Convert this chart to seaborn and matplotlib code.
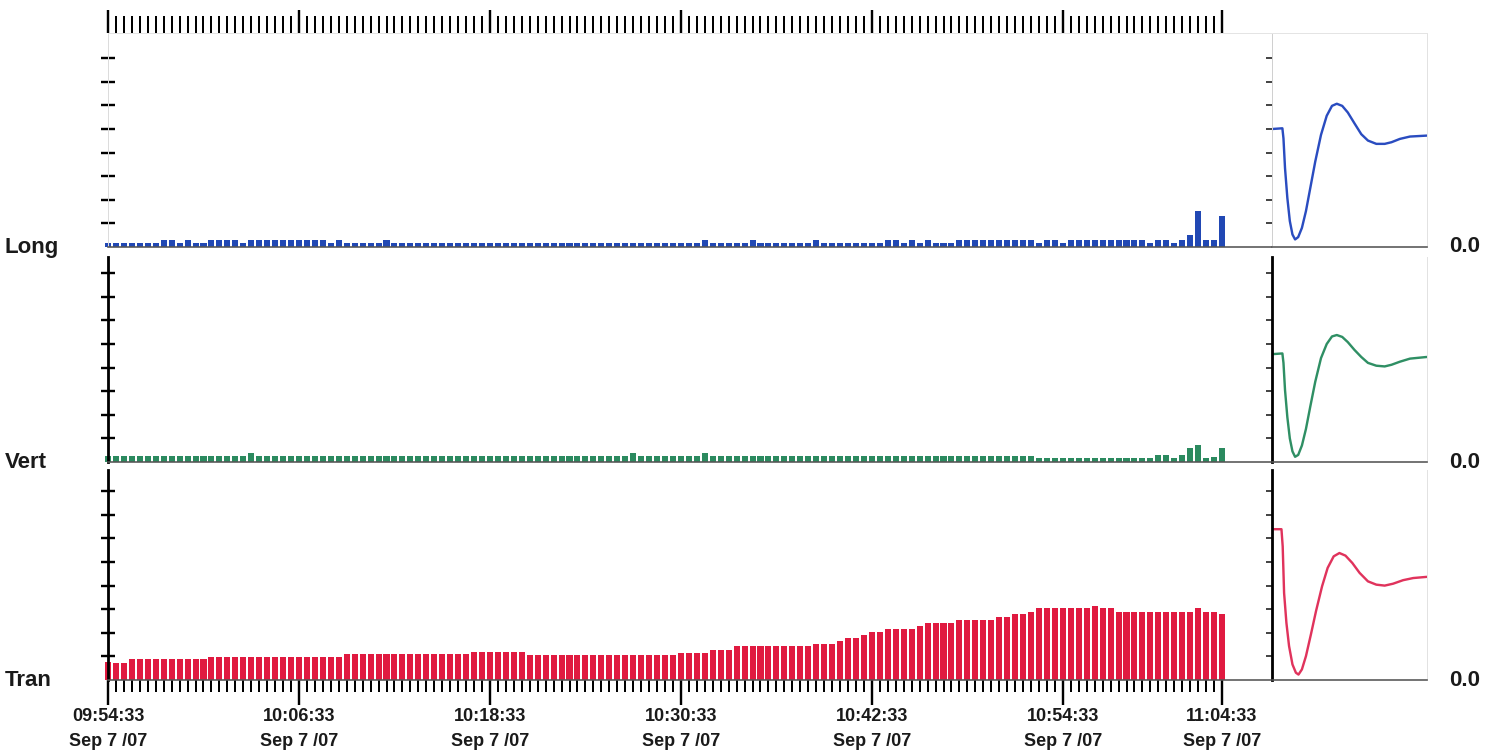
import numpy as np
import pandas as pd
import matplotlib
matplotlib.use("Agg")
import matplotlib.pyplot as plt
import seaborn as sns
from matplotlib.ticker import FixedLocator

sns.set_theme(style="white")
plt.rcParams['font.family'] = ['Liberation Sans', 'DejaVu Sans']

# ---------------- data ----------------
# one sample every 30 s starting 09:54:33 (minutes since start)
sample_minutes = np.arange(141) * 0.5

long_vals = [
    0.15, 0.15, 0.15, 0.15, 0.15, 0.15, 0.15, 0.30, 0.30, 0.15,
    0.30, 0.15, 0.15, 0.30, 0.30, 0.30, 0.30, 0.15, 0.30, 0.30,
    0.30, 0.30, 0.30, 0.30, 0.30, 0.30, 0.30, 0.30, 0.15, 0.30,
    0.15, 0.15, 0.15, 0.15, 0.15, 0.30, 0.15, 0.15, 0.15, 0.15,
    0.15, 0.15, 0.15, 0.15, 0.15, 0.15, 0.15, 0.15, 0.15, 0.15,
    0.15, 0.15, 0.15, 0.15, 0.15, 0.15, 0.15, 0.15, 0.15, 0.15,
    0.15, 0.15, 0.15, 0.15, 0.15, 0.15, 0.15, 0.15, 0.15, 0.15,
    0.15, 0.15, 0.15, 0.15, 0.15, 0.30, 0.15, 0.15, 0.15, 0.15,
    0.15, 0.30, 0.15, 0.15, 0.15, 0.15, 0.15, 0.15, 0.15, 0.30,
    0.15, 0.15, 0.15, 0.15, 0.15, 0.15, 0.15, 0.15, 0.30, 0.30,
    0.15, 0.30, 0.15, 0.30, 0.15, 0.15, 0.15, 0.30, 0.30, 0.30,
    0.30, 0.30, 0.30, 0.30, 0.30, 0.30, 0.30, 0.15, 0.30, 0.30,
    0.15, 0.30, 0.30, 0.30, 0.30, 0.30, 0.30, 0.30, 0.30, 0.30,
    0.30, 0.15, 0.30, 0.30, 0.15, 0.30, 0.50, 1.53, 0.30, 0.30,
    1.30,
]

vert_vals = [
    0.25, 0.25, 0.25, 0.25, 0.25, 0.25, 0.25, 0.25, 0.25, 0.25,
    0.25, 0.25, 0.25, 0.25, 0.25, 0.25, 0.25, 0.25, 0.40, 0.25,
    0.25, 0.25, 0.25, 0.25, 0.25, 0.25, 0.25, 0.25, 0.25, 0.25,
    0.25, 0.25, 0.25, 0.25, 0.25, 0.25, 0.25, 0.25, 0.25, 0.25,
    0.25, 0.25, 0.25, 0.25, 0.25, 0.25, 0.25, 0.25, 0.25, 0.25,
    0.25, 0.25, 0.25, 0.25, 0.25, 0.25, 0.25, 0.25, 0.25, 0.25,
    0.25, 0.25, 0.25, 0.25, 0.25, 0.25, 0.40, 0.25, 0.25, 0.25,
    0.25, 0.25, 0.25, 0.25, 0.25, 0.40, 0.25, 0.25, 0.25, 0.25,
    0.25, 0.25, 0.25, 0.25, 0.25, 0.25, 0.25, 0.25, 0.25, 0.25,
    0.25, 0.25, 0.25, 0.25, 0.25, 0.25, 0.25, 0.25, 0.25, 0.25,
    0.25, 0.25, 0.25, 0.25, 0.25, 0.25, 0.25, 0.25, 0.25, 0.25,
    0.25, 0.25, 0.25, 0.25, 0.25, 0.25, 0.25, 0.15, 0.15, 0.15,
    0.15, 0.15, 0.15, 0.15, 0.15, 0.15, 0.15, 0.15, 0.15, 0.15,
    0.15, 0.15, 0.30, 0.30, 0.15, 0.30, 0.60, 0.72, 0.15, 0.22,
    0.60,
]

tran_vals = [
    0.75, 0.70, 0.70, 0.87, 0.87, 0.87, 0.87, 0.87, 0.87, 0.87,
    0.87, 0.87, 0.87, 0.97, 0.97, 0.97, 0.97, 0.97, 0.97, 0.97,
    0.97, 0.97, 0.97, 0.97, 0.97, 0.97, 0.97, 0.97, 0.97, 0.97,
    1.09, 1.09, 1.09, 1.09, 1.09, 1.09, 1.09, 1.09, 1.09, 1.09,
    1.09, 1.09, 1.09, 1.09, 1.09, 1.09, 1.20, 1.20, 1.20, 1.20,
    1.20, 1.20, 1.20, 1.05, 1.05, 1.05, 1.05, 1.05, 1.05, 1.05,
    1.05, 1.05, 1.05, 1.05, 1.05, 1.05, 1.05, 1.05, 1.05, 1.05,
    1.05, 1.05, 1.15, 1.15, 1.15, 1.15, 1.28, 1.28, 1.28, 1.42,
    1.42, 1.42, 1.42, 1.42, 1.42, 1.42, 1.42, 1.42, 1.42, 1.53,
    1.53, 1.53, 1.64, 1.78, 1.78, 1.91, 2.05, 2.05, 2.16, 2.16,
    2.16, 2.16, 2.27, 2.40, 2.40, 2.40, 2.40, 2.54, 2.54, 2.54,
    2.54, 2.54, 2.65, 2.65, 2.79, 2.79, 2.90, 3.03, 3.03, 3.03,
    3.03, 3.03, 3.03, 3.03, 3.14, 3.03, 3.03, 2.90, 2.90, 2.90,
    2.90, 2.90, 2.90, 2.90, 2.90, 2.90, 2.90, 3.03, 2.90, 2.90,
    2.79,
]

channels = ["Long", "Vert", "Tran"]
bar_colors = ["#2148b4", "#2b8a5f", "#e01a40"]
line_colors = ["#2a4cc0", "#2f8f64", "#e0335c"]

time_tick_minutes = [0, 12, 24, 36, 48, 60, 70]
time_tick_clock = ["09:54:33", "10:06:33", "10:18:33", "10:30:33",
                   "10:42:33", "10:54:33", "11:04:33"]
time_tick_date = ["Sep 7 /07"] * 7

# event waveforms (percent of window, amplitude in tick units)
long_wave_t = [0.2, 6.7, 7.4, 8.4, 9.9, 11.5, 13.2, 14.9, 16.9, 19.3, 21.9, 24.7,
               27.9, 31.6, 35.3, 38.7, 41.8, 45.3, 48.9, 53.2, 57.6, 61.9, 67.3,
               72.7, 77.1, 82.5, 89.0, 99.8]
long_wave_v = [5.00, 5.03, 4.60, 3.34, 2.08, 1.10, 0.53, 0.32, 0.42, 0.81, 1.52, 2.50,
               3.62, 4.75, 5.56, 5.98, 6.07, 5.98, 5.70, 5.24, 4.78, 4.51, 4.37,
               4.37, 4.44, 4.58, 4.68, 4.72]

vert_wave_t = [0.2, 6.7, 7.4, 8.4, 9.9, 11.5, 13.2, 14.9, 16.9, 19.3, 21.9, 24.7,
               27.9, 31.6, 35.3, 38.7, 41.8, 45.3, 48.9, 53.2, 57.6, 61.9, 67.3,
               72.7, 77.1, 82.5, 89.0, 99.8]
vert_wave_v = [4.57, 4.60, 4.20, 3.05, 1.90, 1.00, 0.45, 0.22, 0.30, 0.70, 1.40, 2.35,
               3.40, 4.40, 5.00, 5.32, 5.38, 5.30, 5.08, 4.75, 4.45, 4.20, 4.08,
               4.05, 4.12, 4.25, 4.38, 4.45]

tran_wave_t = [1.3, 6.1, 6.9, 7.8, 9.3, 11.0, 13.2, 15.4, 17.1, 19.3, 21.9, 25.1,
               28.4, 32.3, 35.9, 39.8, 43.5, 47.4, 51.8, 56.5, 61.9, 67.3, 72.7,
               78.1, 84.6, 91.1, 99.8]
tran_wave_v = [6.39, 6.39, 5.66, 3.69, 2.42, 1.44, 0.66, 0.31, 0.23, 0.45, 1.01, 1.93,
               2.92, 3.97, 4.75, 5.24, 5.38, 5.27, 4.96, 4.54, 4.18, 4.04, 4.00,
               4.08, 4.23, 4.32, 4.37]

bar_series = [long_vals, vert_vals, tran_vals]
wave_series = [(long_wave_t, long_wave_v), (vert_wave_t, vert_wave_v),
               (tran_wave_t, tran_wave_v)]

# ---------------- layout ----------------
W, H = 1498, 751
fig = plt.figure(figsize=(W / 100, H / 100), dpi=100)
fig.patch.set_facecolor("white")
PT = 0.72  # points per pixel at dpi 100


def frac(x0, y0, x1, y1):
    return [x0 / W, 1 - y1 / H, (x1 - x0) / W, (y1 - y0) / H]


UNIT = 23.6
rows = [(33, 247), (257, 462), (470, 680)]
LX0, LX1 = 108, 1272
RX0, RX1 = 1272, 1427
PX_PER_MIN = (1222 - 108) / 70.0

for r, (name, (top, bot)) in enumerate(zip(channels, rows)):
    ymax = (bot - top) / UNIT
    # ---- trend (bars) ----
    ax = fig.add_axes(frac(LX0, top, LX1, bot))
    df = pd.DataFrame({"minute": sample_minutes, "value": bar_series[r]})
    sns.barplot(data=df, x="minute", y="value", native_scale=True, orient="x",
                width=0.76, color=bar_colors[r], saturation=1, errorbar=None,
                linewidth=0, ax=ax)
    for p in ax.patches:
        p.set_clip_on(False)
    ax.set_xlim(0, (LX1 - LX0) / PX_PER_MIN)
    ax.set_ylim(0, ymax)
    ax.set_xlabel("")
    ax.set_ylabel("")
    ax.set_facecolor("none")
    ax.yaxis.set_major_locator(FixedLocator(list(range(1, 9))))
    ax.tick_params(axis="y", which="major", direction="inout", length=14 * PT,
                   width=2.4 * PT, color="black", left=True, labelleft=False)
    ax.xaxis.set_major_locator(FixedLocator(time_tick_minutes))
    ax.xaxis.set_minor_locator(FixedLocator(list(sample_minutes)))
    ax.spines["right"].set_visible(False)
    ax.spines["bottom"].set_color("#555555")
    ax.spines["bottom"].set_linewidth(1.6 * PT)
    if r == 0:
        ax.xaxis.set_ticks_position("top")
        ax.tick_params(axis="x", which="major", direction="out", length=23 * PT,
                       width=2.4 * PT, color="black", top=True, bottom=False,
                       labeltop=False, labelbottom=False)
        ax.tick_params(axis="x", which="minor", direction="out", length=17 * PT,
                       width=2.0 * PT, color="black", top=True, bottom=False)
        ax.spines["top"].set_color("#e4e4e4")
        ax.spines["top"].set_linewidth(1 * PT)
        ax.spines["left"].set_color("#dcdcdc")
        ax.spines["left"].set_linewidth(1 * PT)
    else:
        ax.spines["top"].set_visible(False)
        ax.spines["left"].set_color("black")
        ax.spines["left"].set_linewidth(2.8 * PT)
        if r == 1:
            ax.tick_params(axis="x", which="both", bottom=False, top=False,
                           labelbottom=False)
        else:
            ax.tick_params(axis="x", which="major", direction="out", length=25 * PT,
                           width=2.4 * PT, color="black", bottom=True, top=False,
                           pad=2, labelsize=13)
            ax.tick_params(axis="x", which="minor", direction="out", length=12 * PT,
                           width=2.0 * PT, color="black", bottom=True, top=False)
            ax.set_xticklabels([f"{c}\n{d}" for c, d in zip(time_tick_clock, time_tick_date)])
            for lbl in ax.get_xticklabels():
                lbl.set_fontweight("bold")
                lbl.set_linespacing(1.62)
                lbl.set_color("#1a1a1a")

    # ---- event waveform ----
    ax2 = fig.add_axes(frac(RX0, top, RX1, bot))
    wt, wv = wave_series[r]
    sns.lineplot(x=wt, y=wv, color=line_colors[r], linewidth=2.4 * PT, ax=ax2)
    ax2.set_xlim(0, 100)
    ax2.set_ylim(0, ymax)
    ax2.set_xlabel("")
    ax2.set_ylabel("")
    ax2.set_facecolor("none")
    ax2.yaxis.set_major_locator(FixedLocator(list(range(1, 9))))
    ax2.tick_params(axis="y", which="major", direction="out", length=6 * PT,
                    width=1.8 * PT, color="#333333", left=True, labelleft=False)
    ax2.tick_params(axis="x", which="both", bottom=False, top=False, labelbottom=False)
    ax2.spines["right"].set_color("#e2e2e2")
    ax2.spines["right"].set_linewidth(1 * PT)
    ax2.spines["bottom"].set_color("#555555")
    ax2.spines["bottom"].set_linewidth(1.6 * PT)
    if r == 0:
        ax2.spines["top"].set_color("#e4e4e4")
        ax2.spines["top"].set_linewidth(1 * PT)
        ax2.spines["left"].set_color("#d0d0d0")
        ax2.spines["left"].set_linewidth(1 * PT)
    else:
        ax2.spines["top"].set_visible(False)
        ax2.spines["left"].set_color("black")
        ax2.spines["left"].set_linewidth(2.8 * PT)

    # ---- labels ----
    fig.text(5 / W, 1 - bot / H, name, fontsize=16, fontweight="bold",
             ha="left", va="center", color="#1a1a1a")
    fig.text(1465 / W, 1 - bot / H, "0.0", fontsize=16, fontweight="bold",
             ha="center", va="center", color="#1a1a1a")

fig.savefig("out.png", dpi=100)
